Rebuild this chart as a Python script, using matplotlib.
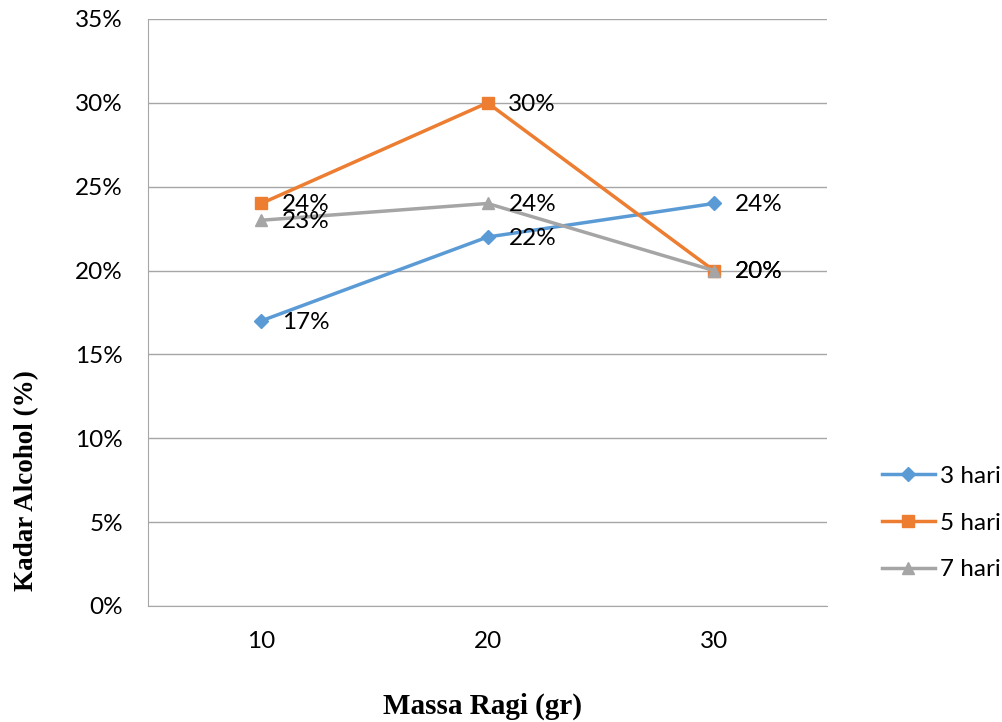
import matplotlib.pyplot as plt
from matplotlib.ticker import PercentFormatter

massa = [10, 20, 30]
hari_3 = [17, 22, 24]
hari_5 = [24, 30, 20]
hari_7 = [23, 24, 20]
y_ticks = [0, 5, 10, 15, 20, 25, 30, 35]

plt.rcParams['font.family'] = ['Lato', 'DejaVu Sans']

fig = plt.figure(figsize=(10.03, 7.22), dpi=100)
ax = fig.add_axes([0.1476, 0.1607, 0.677, 0.813])

x = list(range(1, len(massa) + 1))
series = [
    ('3 hari', hari_3, '#5b9bd5', 'D', 7),
    ('5 hari', hari_5, '#ed7d31', 's', 9),
    ('7 hari', hari_7, '#a5a5a5', '^', 9),
]
for name, vals, col, mk, ms in series:
    ax.plot(x, vals, color=col, lw=2.5, marker=mk, ms=ms, label=name, zorder=3)
    for xi, v in zip(x, vals):
        ax.annotate(f'{v}%', (xi, v), xytext=(15, -1), textcoords='offset points',
                    ha='left', va='center', fontsize=17.5, color='black', zorder=4)

ax.set_xlim(0.5, 3.5)
ax.set_ylim(0, 35)
ax.set_xticks(x)
ax.set_xticklabels([str(m) for m in massa])
ax.set_yticks(y_ticks)
ax.yaxis.set_major_formatter(PercentFormatter(decimals=0))
ax.grid(axis='y', color='#a6a6a6', lw=1)
ax.set_axisbelow(True)
ax.tick_params(length=0, labelsize=17.5)
ax.tick_params(axis='x', pad=18)
ax.tick_params(axis='y', pad=18)
for s in ['top', 'right']:
    ax.spines[s].set_visible(False)
ax.spines['left'].set_color('#a6a6a6')
ax.spines['bottom'].set_color('#a6a6a6')

# axis titles placed like the Excel original
fig.text(0.481, 0.0215, 'Massa Ragi (gr)', fontsize=21, fontweight='bold',
         family='Liberation Serif', ha='center', va='center')
fig.text(0.0265, 0.335, 'Kadar Alcohol (%)', fontsize=19.5, fontweight='bold',
         family='Liberation Serif', ha='center', va='center', rotation=90)

fig.legend(loc='center left', bbox_to_anchor=(0.879, 0.2756), frameon=False,
           fontsize=17.5, handlelength=2.2, labelspacing=1.05, handletextpad=0.2,
           borderpad=0, borderaxespad=0)

fig.savefig('out.png', dpi=100)
